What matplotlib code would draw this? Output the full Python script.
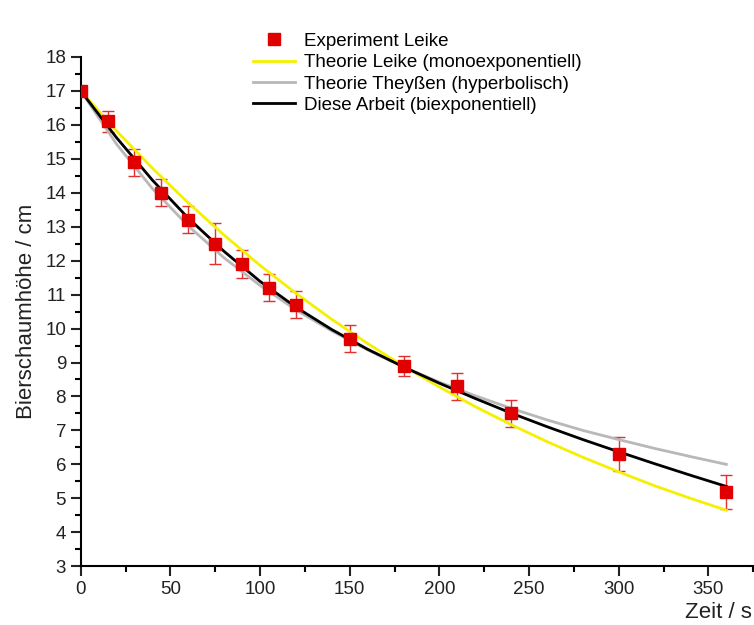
import matplotlib
matplotlib.use("Agg")
import matplotlib.pyplot as plt
from matplotlib.ticker import MultipleLocator

# measured points (Leike)
t_exp = [0, 15, 30, 45, 60, 75, 90, 105, 120, 150, 180, 210, 240, 300, 360]
h_exp = [17.0, 16.1, 14.9, 14.0, 13.2, 12.5, 11.9, 11.2, 10.7, 9.7, 8.9, 8.3, 7.5, 6.3, 5.2]
h_err = [0.0, 0.3, 0.4, 0.4, 0.4, 0.6, 0.4, 0.4, 0.4, 0.4, 0.3, 0.4, 0.4, 0.5, 0.5]

# model curves
t_fit = [0, 20, 40, 60, 80, 100, 120, 140, 160, 180, 200, 220, 240, 260, 280, 300, 320, 340, 360]
h_mono = [17.0, 15.82, 14.72, 13.70, 12.75, 11.86, 11.04, 10.27, 9.56, 8.89, 8.28, 7.70,
          7.17, 6.67, 6.21, 5.78, 5.37, 5.0, 4.65]
h_hyper = [17.0, 15.43, 14.12, 13.02, 12.08, 11.27, 10.55, 9.93, 9.37, 8.87, 8.42, 8.02,
           7.65, 7.31, 7.0, 6.73, 6.47, 6.23, 6.0]
h_biexp = [17.0, 15.62, 14.37, 13.25, 12.27, 11.39, 10.63, 9.97, 9.39, 8.87, 8.39, 7.94,
           7.51, 7.11, 6.73, 6.37, 6.02, 5.68, 5.35]

plt.rcParams['font.family'] = ['Liberation Sans', 'DejaVu Sans']

fig = plt.figure(figsize=(7.54, 6.25), dpi=100)
ax = fig.add_axes([0.107, 0.094, 0.892, 0.815])

ax.errorbar(t_exp, h_exp, yerr=h_err, fmt='none', ecolor='#e03030',
            elinewidth=1, capsize=4, capthick=1, zorder=2)
ax.plot(t_exp, h_exp, 's', color='#e00000', ms=8, label='Experiment Leike', zorder=5)
ax.plot(t_fit, h_mono, color='#f5f000', lw=2, label='Theorie Leike (monoexponentiell)', zorder=3)
ax.plot(t_fit, h_hyper, color='#b8b8b8', lw=2, label='Theorie Theyßen (hyperbolisch)', zorder=3)
ax.plot(t_fit, h_biexp, color='black', lw=2, label='Diese Arbeit (biexponentiell)', zorder=4)

ax.set_xlim(0, 375)
ax.set_ylim(3, 18)
ax.xaxis.set_major_locator(MultipleLocator(50))
ax.xaxis.set_minor_locator(MultipleLocator(25))
ax.yaxis.set_major_locator(MultipleLocator(1))
ax.yaxis.set_minor_locator(MultipleLocator(0.5))
ax.tick_params(which='major', direction='out', length=7, width=1.5, labelsize=13.5, colors='#222222')
ax.tick_params(which='minor', direction='out', length=4, width=1.5)
for s in ('top', 'right'):
    ax.spines[s].set_visible(False)
for s in ('left', 'bottom'):
    ax.spines[s].set_linewidth(1.5)

ax.set_ylabel('Bierschaumhöhe / cm', fontsize=16, color='#222222', labelpad=6)
fig.text(0.997, 0.036, 'Zeit / s', fontsize=16, ha='right', va='top', color='#222222')

ax.legend(loc='upper left', bbox_to_anchor=(0.256, 1.047), frameon=False, fontsize=13.5,
          handlelength=2.25, labelspacing=0.22, handletextpad=0.5, borderaxespad=0,
          borderpad=0)

fig.savefig('out.png', dpi=100)
